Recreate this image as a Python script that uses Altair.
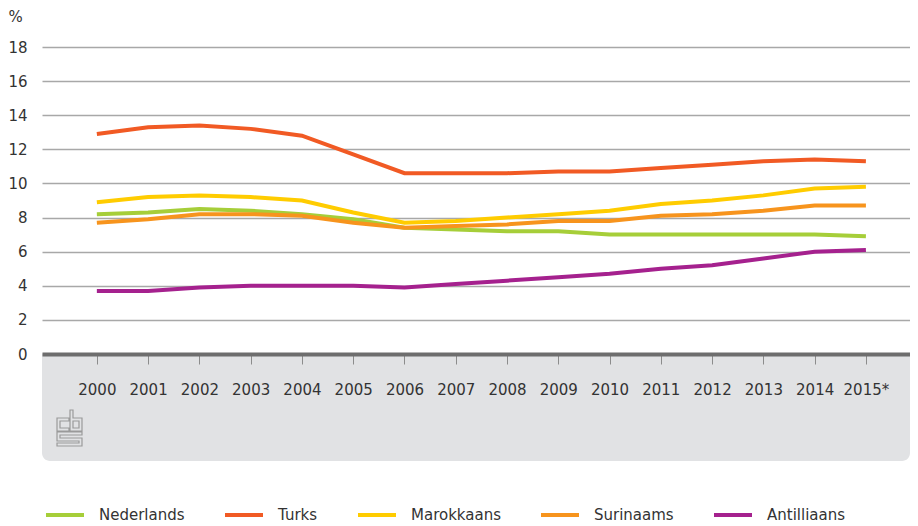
import altair as alt
import pandas as pd

years = list(range(2000, 2016))
series = ["Nederlands", "Turks", "Marokkaans", "Surinaams", "Antilliaans"]
colors = ["#a6ce39", "#f15a24", "#ffcc00", "#f7941d", "#a5218e"]

nederlands = [8.2, 8.3, 8.5, 8.4, 8.2, 7.9, 7.4, 7.3, 7.2, 7.2, 7.0, 7.0, 7.0, 7.0, 7.0, 6.9]
turks = [12.9, 13.3, 13.4, 13.2, 12.8, 11.7, 10.6, 10.6, 10.6, 10.7, 10.7, 10.9, 11.1, 11.3, 11.4, 11.3]
marokkaans = [8.9, 9.2, 9.3, 9.2, 9.0, 8.3, 7.7, 7.8, 8.0, 8.2, 8.4, 8.8, 9.0, 9.3, 9.7, 9.8]
surinaams = [7.7, 7.9, 8.2, 8.2, 8.1, 7.7, 7.4, 7.5, 7.6, 7.8, 7.8, 8.1, 8.2, 8.4, 8.7, 8.7]
antilliaans = [3.7, 3.7, 3.9, 4.0, 4.0, 4.0, 3.9, 4.1, 4.3, 4.5, 4.7, 5.0, 5.2, 5.6, 6.0, 6.1]

y_ticks = [0, 2, 4, 6, 8, 10, 12, 14, 16, 18]

values = [nederlands, turks, marokkaans, surinaams, antilliaans]
rows = []
for name, vals in zip(series, values):
    for yr, v in zip(years, vals):
        rows.append({"jaar": yr, "groep": name, "pct": v})
df = pd.DataFrame(rows)

FONT = "DejaVu Sans"
TEXT = "#333333"
W = 868
H = 307

# decorative grey panel under the x axis
panel = alt.Chart(alt.Data(values=[{"k": 1}])).mark_rect(
    color="#e1e2e4", cornerRadiusBottomLeft=8, cornerRadiusBottomRight=8
).encode(
    x=alt.value(0), x2=alt.value(W), y=alt.value(H), y2=alt.value(414)
)

logo_path = (
    "M-0.694,-0.556 L-0.028,-0.556 L-0.028,-0.389 L-0.528,-0.389 L-0.528,0 "
    "L-0.028,0 L-0.028,0.167 L-0.694,0.167 Z "
    "M0.028,-1 L0.194,-1 L0.194,-0.556 L0.694,-0.556 L0.694,0.167 L0.028,0.167 Z "
    "M0.194,-0.389 L0.528,-0.389 L0.528,0 L0.194,0 Z "
    "M-0.694,0.222 L0.694,0.222 L0.694,0.389 L-0.528,0.389 L-0.528,0.556 "
    "L0.694,0.556 L0.694,1 L-0.694,1 L-0.694,0.833 L0.528,0.833 L0.528,0.722 "
    "L-0.694,0.722 Z"
)
logo = alt.Chart(alt.Data(values=[{"k": 1}])).mark_point(
    shape=logo_path, filled=False, stroke="#9a9a9a", strokeWidth=1.2, size=1296, opacity=1
).encode(x=alt.value(27.5), y=alt.value(381))

lines = alt.Chart(df).mark_line(strokeWidth=4).encode(
    x=alt.X(
        "jaar:Q",
        scale=alt.Scale(domain=[1998.93, 2015.86], nice=False, zero=False),
        axis=alt.Axis(
            values=years,
            format="d",
            labelExpr="datum.value == 2015 ? '2015*' : datum.label",
            title=None,
            grid=False,
            domain=True,
            domainColor="#6d6d6d",
            domainWidth=4,
            ticks=True,
            tickColor="#8c8c8c",
            tickWidth=1,
            tickSize=10,
            labelPadding=18,
            labelFontSize=15,
            labelColor=TEXT,
            labelOverlap=False,
            labelFlush=False,
            zindex=2,
        ),
    ),
    y=alt.Y(
        "pct:Q",
        scale=alt.Scale(domain=[0, 18], nice=False),
        axis=alt.Axis(
            values=y_ticks,
            title="%",
            titleAngle=0,
            titleAlign="left",
            titleBaseline="alphabetic",
            titleX=-34,
            titleY=-26,
            titleFontSize=15,
            titleFontWeight="normal",
            titleColor=TEXT,
            domain=False,
            ticks=False,
            tickSize=0,
            labelPadding=15,
            labelFontSize=15,
            labelColor=TEXT,
            grid=True,
            gridColor="#a8a8a8",
            gridWidth=1.5,
        ),
    ),
    color=alt.Color(
        "groep:N",
        scale=alt.Scale(domain=series, range=colors),
        legend=alt.Legend(
            title=None,
            orient="none",
            legendX=2,
            legendY=447,
            direction="horizontal",
            symbolType="stroke",
            symbolSize=1444,
            symbolStrokeWidth=4,
            labelFontSize=15,
            labelColor=TEXT,
            labelOffset=13,
            columnPadding=32,
            padding=0,
        ),
    ),
)

chart = alt.layer(panel, logo, lines).properties(
    width=W,
    height=H,
    autosize=alt.AutoSizeParams(type="none"),
    padding={"left": 34, "top": 39, "right": 0, "bottom": 170},
).configure(font=FONT).configure_view(stroke=None)

chart.save("out.html", embed_options={"renderer": "svg", "actions": False})
